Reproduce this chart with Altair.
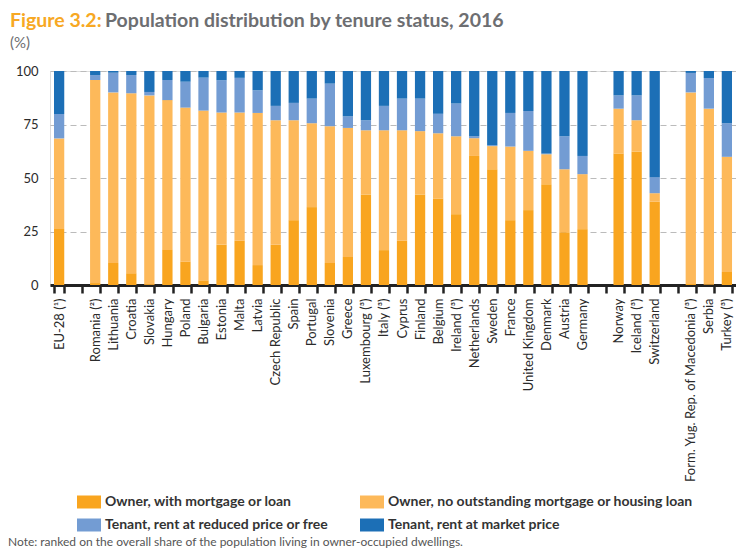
import altair as alt
import pandas as pd

FONT = "Lato"

# Axis slots (blank names are the gaps between country groups)
slots = ["EU-28 (¹)", " ", "Romania (²)", "Lithuania", "Croatia", "Slovakia", "Hungary",
         "Poland", "Bulgaria", "Estonia", "Malta", "Latvia", "Czech Republic", "Spain",
         "Portugal", "Slovenia", "Greece", "Luxembourg (³)", "Italy (³)", "Cyprus", "Finland",
         "Belgium", "Ireland (³)", "Netherlands", "Sweden", "France", "United Kingdom",
         "Denmark", "Austria", "Germany", "  ", "Norway", "Iceland (³)", "Switzerland", "   ",
         "Form. Yug. Rep. of Macedonia (³)", "Serbia", "Turkey (³)"]

countries = [s for s in slots if s.strip()]

owner_mortgage = [26.2, 0.9, 10.3, 5.5, 0.4, 16.4, 10.9, 2.2, 18.9, 20.7, 9.3, 18.8, 30.3,
                  36.4, 10.3, 13.1, 42.3, 16.3, 20.7, 42.3, 40.4, 33.1, 60.3, 54.1, 30.3,
                  35.0, 47.1, 24.7, 26.1, 61.4, 62.4, 38.9, 0.5, 0.3, 6.1]
owner_no_mortgage = [42.3, 94.9, 79.7, 84.1, 88.2, 70.0, 72.0, 79.3, 61.7, 59.9, 71.1, 58.2,
                     46.7, 39.2, 63.9, 60.3, 30.0, 56.0, 51.6, 29.6, 30.5, 36.4, 8.3, 10.8,
                     34.4, 27.7, 14.0, 29.4, 25.7, 21.0, 14.6, 4.0, 89.5, 82.1, 53.8]
tenant_reduced = [11.4, 2.3, 9.2, 8.5, 1.6, 9.4, 12.1, 15.4, 15.1, 16.2, 10.6, 6.7, 8.1,
                  11.5, 19.9, 5.4, 4.7, 11.4, 14.8, 15.2, 9.1, 15.3, 0.9, 0.4, 15.7, 18.6,
                  0.3, 15.4, 8.5, 6.2, 11.6, 7.5, 9.1, 14.3, 15.7]
tenant_market = [20.1, 1.9, 0.8, 1.9, 9.8, 4.2, 5.0, 3.1, 4.3, 3.2, 9.0, 16.3, 14.9, 12.9,
                 5.9, 21.2, 23.0, 16.3, 12.9, 12.9, 20.0, 15.2, 30.5, 34.7, 19.6, 18.7,
                 38.6, 30.5, 39.7, 11.4, 11.4, 49.6, 0.9, 3.3, 24.4]

series_names = ["Owner, with mortgage or loan",
                "Owner, no outstanding mortgage or housing loan",
                "Tenant, rent at reduced price or free",
                "Tenant, rent at market price"]
series_colors = ["#F9A51F", "#FDB95A", "#739CD3", "#1C6FB6"]
series_values = [owner_mortgage, owner_no_mortgage, tenant_reduced, tenant_market]

rows = []
for k, (name, vals) in enumerate(zip(series_names, series_values)):
    for c, v in zip(countries, vals):
        rows.append({"country": c, "status": name, "value": v, "order": k})
df = pd.DataFrame(rows)

rect_path = "M-1.85,-1L1.85,-1L1.85,1L-1.85,1Z"

bars = alt.Chart(df).mark_bar(stroke=None).encode(
    x=alt.X("country:N", sort=slots, scale=alt.Scale(domain=slots, paddingInner=0.43, paddingOuter=0.22),
            axis=alt.Axis(title=None, labelAngle=-90, labelFontSize=13, labelColor="#2B2B2B",
                          labelFont=FONT, labelPadding=5, domainColor="#222222", domainWidth=3,
                          tickColor="#222222", tickWidth=2.5, tickSize=8, tickBand="extent",
                          grid=False, labelLimit=300)),
    y=alt.Y("value:Q", stack="zero", scale=alt.Scale(domain=[0, 100], nice=False),
            axis=alt.Axis(title=None, values=[0, 25, 50, 75, 100], ticks=False, domain=False,
                          grid=True, gridDash=[6, 4], gridColor="#BBBBBB", gridWidth=1,
                          labelFontSize=13, labelColor="#2B2B2B", labelFont=FONT, labelPadding=12)),
    color=alt.Color("status:N", scale=alt.Scale(domain=series_names, range=series_colors),
                    legend=alt.Legend(title=None, orient="none", legendX=32, legendY=424,
                                      columns=2, direction="horizontal", symbolType=rect_path,
                                      symbolSize=169, symbolStrokeWidth=0, labelFont=FONT,
                                      labelFontSize=14, labelFontWeight="bold",
                                      labelColor="#333333", labelOffset=9, columnPadding=30,
                                      rowPadding=9, labelLimit=500)),
    order=alt.Order("order:Q"),
)

one = pd.DataFrame({"a": [0]})

def txt(text, x, y, size, color, weight="normal"):
    return alt.Chart(one).mark_text(text=text, align="left", baseline="alphabetic", font=FONT,
                                    fontSize=size, fontWeight=weight, color=color).encode(
        x=alt.value(x), y=alt.value(y))

t1 = txt("Figure 3.2:", -40, -44, 19.5, "#F7A823", "bold")
t2 = txt("Population distribution by tenure status, 2016", 55, -44, 19.5, "#6D6E71", "bold")
t3 = txt("(%)", -40, -23, 15, "#6D6E71")
note = txt("Note: ranked on the overall share of the population living in owner-occupied dwellings.",
           -42, 475, 12, "#555555")

chart = alt.layer(bars, t1, t2, t3, note).properties(
    width=686, height=214,
    padding={"left": 42, "top": 63, "right": 0, "bottom": 265},
    autosize="none",
).configure_view(stroke=None).configure(font=FONT)

chart.save("out.html", embed_options={"renderer": "svg", "actions": False})
